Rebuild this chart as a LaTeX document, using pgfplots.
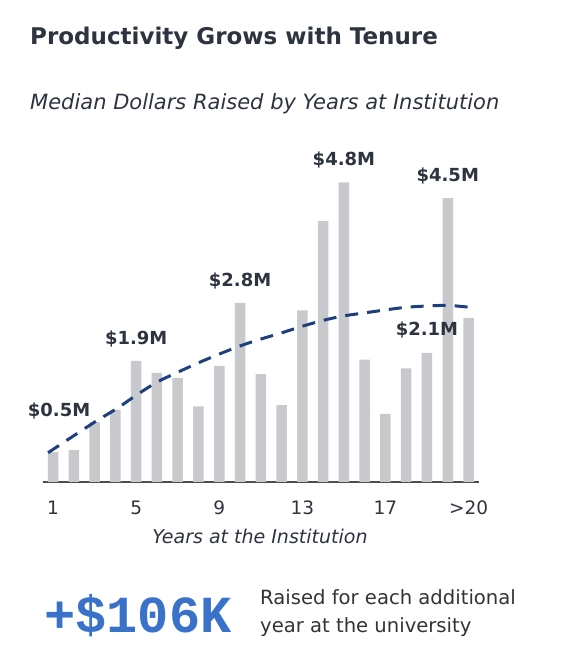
\documentclass[border=0pt]{standalone}
\usepackage{pgfplots}
\pgfplotsset{compat=1.18}
\usepackage{fontspec}
\setmainfont{DejaVu Sans}
\newfontfamily\bignum{Liberation Mono}
\definecolor{titlec}{HTML}{2D3440}
\definecolor{barc}{HTML}{C8C9CD}
\definecolor{linec}{HTML}{1E3F7C}
\definecolor{axisc}{HTML}{4A4F57}
\definecolor{bluec}{HTML}{3A72CA}
\definecolor{textc}{HTML}{333333}
\pgfplotstableread{
x y
1 0.48
2 0.51
3 0.96
4 1.16
5 1.94
6 1.75
7 1.67
8 1.21
9 1.86
10 2.87
11 1.73
12 1.23
13 2.75
14 4.18
15 4.80
16 1.96
17 1.09
18 1.82
19 2.07
20 4.55
21 2.63
}\bars
\pgfplotstableread{
x y
0.76 0.47
3.0 0.96
4.04 1.17
5.0 1.39
6.0 1.60
7.01 1.76
8.0 1.91
9.0 2.05
10.0 2.18
11.0 2.29
12.0 2.39
13.04 2.50
14.0 2.59
14.96 2.66
16.0 2.71
17.05 2.76
18.0 2.80
18.97 2.82
20.0 2.83
21.06 2.80
}\trend
\begin{document}
\begin{tikzpicture}[x=1bp,y=1bp]
\path (0,0) rectangle (582,663);
\node[anchor=base west, inner sep=0, text=titlec, font=\fontsize{23bp}{26bp}\selectfont\bfseries] at (30,618) {Productivity Grows with Tenure};
\node[anchor=base west, inner sep=0, text=titlec, font=\fontsize{21bp}{24bp}\selectfont\itshape] at (30,553) {Median Dollars Raised by Years at Institution};
\begin{axis}[
  at={(42.7bp,181bp)}, anchor=south west,
  scale only axis, width=436.2bp, height=312bp,
  xmin=0.5, xmax=21.5, ymin=0, ymax=5,
  clip=false,
  axis x line*=bottom, axis y line=none,
  x axis line style={-, draw=axisc, line width=1.8bp},
  xtick={1,5,9,13,17,21},
  xticklabels={1,5,9,13,17,{>20}},
  major tick length=0pt,
  xtick style={draw=none},
  xticklabel style={anchor=base, yshift=-33bp, text=titlec, font=\fontsize{18.5bp}{20bp}\selectfont},
]
\addplot[ybar, bar width=10.5bp, fill=barc, draw=none, bar shift=0pt] table[x=x,y=y] {\bars};
\addplot[linec, line width=3bp, dash pattern=on 13bp off 9bp, smooth, tension=0.5] table[x=x,y=y] {\trend};
\node[anchor=south, inner sep=0, yshift=14bp, font=\fontsize{18bp}{20bp}\selectfont\bfseries, text=titlec] at (axis cs:15,4.80) {\$4.8M};
\node[anchor=south, inner sep=0, yshift=14bp, font=\fontsize{18bp}{20bp}\selectfont\bfseries, text=titlec] at (axis cs:20,4.55) {\$4.5M};
\node[anchor=south, inner sep=0, yshift=14bp, font=\fontsize{18bp}{20bp}\selectfont\bfseries, text=titlec] at (axis cs:10,2.87) {\$2.8M};
\node[anchor=south, inner sep=0, yshift=14bp, font=\fontsize{18bp}{20bp}\selectfont\bfseries, text=titlec] at (axis cs:5,1.94) {\$1.9M};
\node[anchor=south, inner sep=0, yshift=14bp, font=\fontsize{18bp}{20bp}\selectfont\bfseries, text=titlec] at (axis cs:19,2.07) {\$2.1M};
\node[anchor=south, inner sep=0, yshift=33bp, xshift=6bp, font=\fontsize{18bp}{20bp}\selectfont\bfseries, text=titlec] at (axis cs:1,0.48) {\$0.5M};
\end{axis}
\node[anchor=base, inner sep=0, text=titlec, font=\fontsize{19bp}{22bp}\selectfont\itshape] at (260,119) {Years at the Institution};
\node[anchor=base west, inner sep=0, text=bluec, font=\fontsize{52bp}{56bp}\selectfont\bignum\bfseries] at (44,30.3) {+\$106K};
\node[anchor=base west, inner sep=0, text=textc, font=\fontsize{19.6bp}{22bp}\selectfont] at (260,58) {Raised for each additional};
\node[anchor=base west, inner sep=0, text=textc, font=\fontsize{19.6bp}{22bp}\selectfont] at (260,30.3) {year at the university};
\end{tikzpicture}
\end{document}
